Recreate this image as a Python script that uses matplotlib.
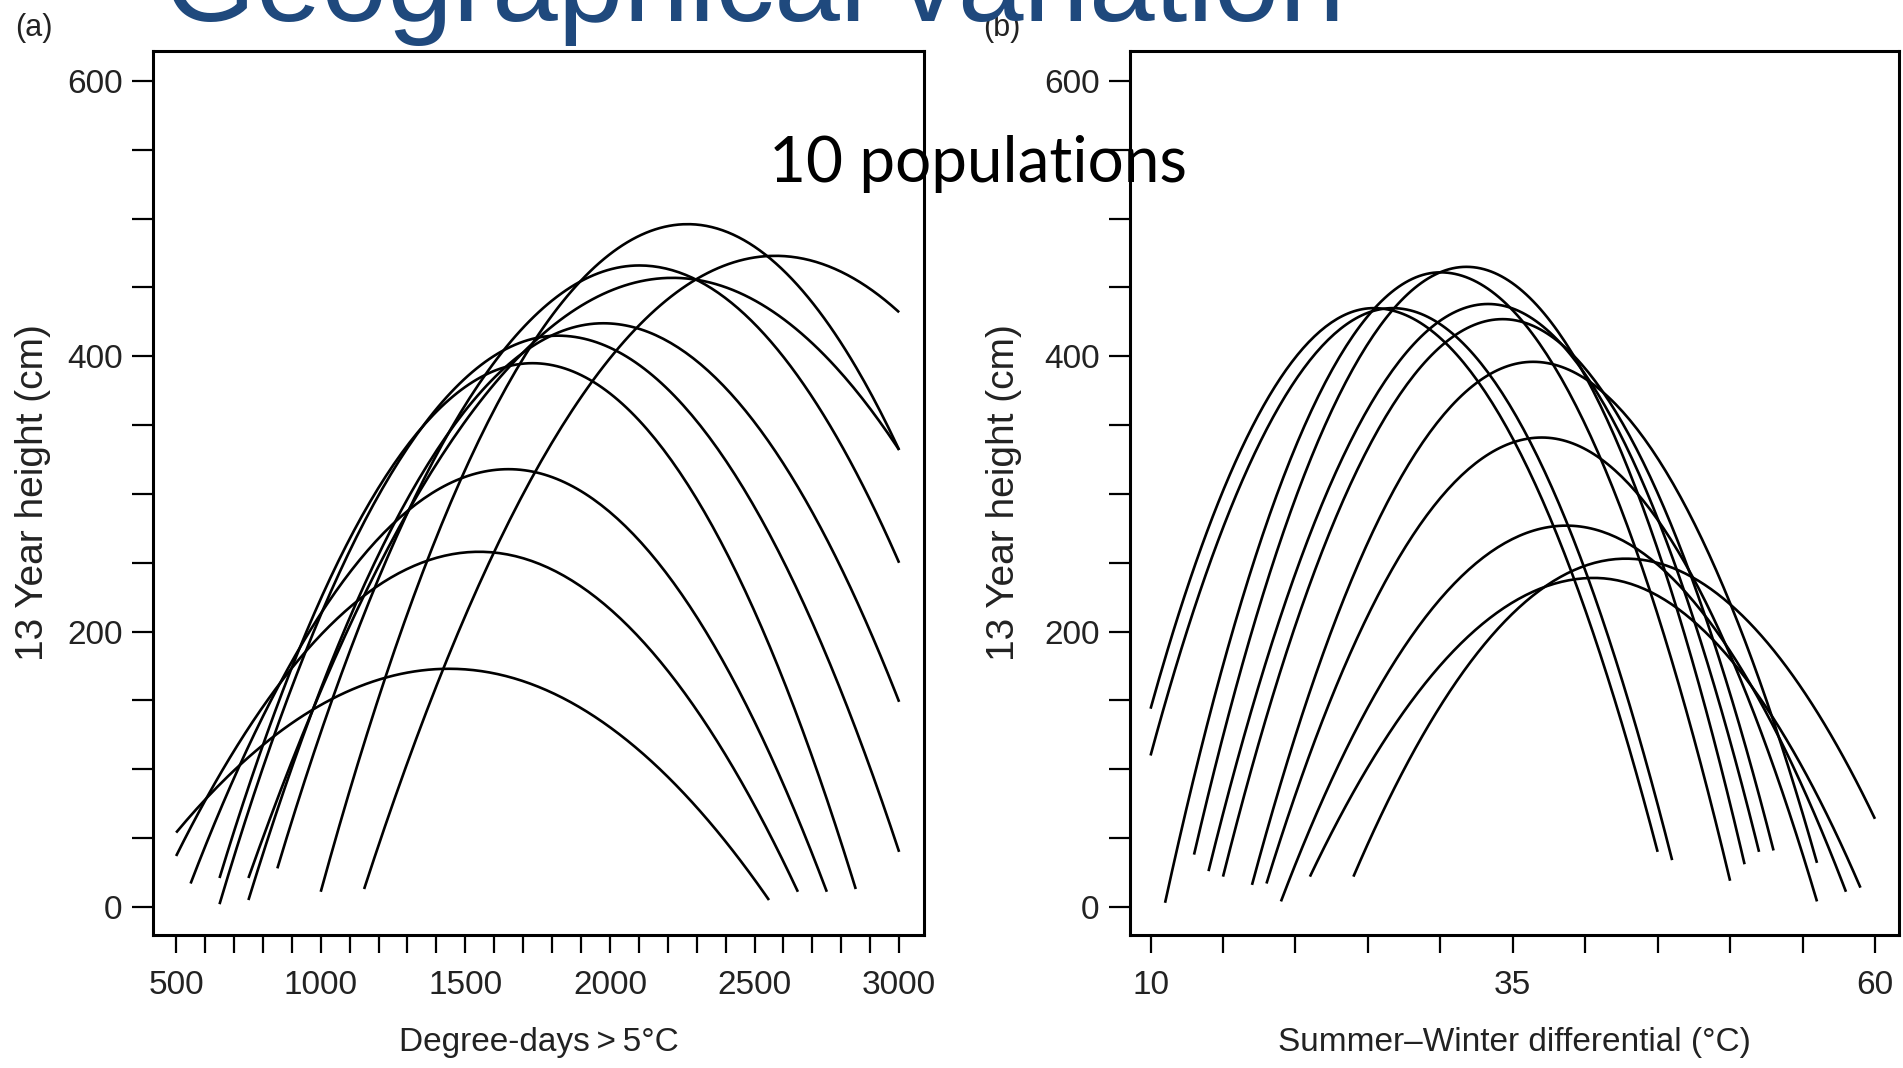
import numpy as np
import matplotlib
matplotlib.use('Agg')
import matplotlib.pyplot as plt
from matplotlib.ticker import MultipleLocator, FixedLocator

plt.rcParams['font.family'] = ['Liberation Sans', 'DejaVu Sans']

# Panel (a): 13 year height against degree-days > 5C
# one quadratic response curve per population: start, top and end of each curve
dd_start_x = [500, 500, 550, 650, 650, 750, 850, 750, 1000, 1150]
dd_start_y = [54, 37, 17, 21, 2, 5, 28, 21, 11, 13]
dd_peak_x = [1444, 1548, 1649, 1732, 1820, 1977, 2102, 2217, 2269, 2572]
dd_peak_y = [173, 258, 318, 395, 415, 424, 466, 457, 496, 473]
dd_end_x = [2550, 2650, 2750, 2850, 3000, 3000, 3000, 3000, 3000, 3000]
dd_end_y = [5, 11, 11, 13, 40, 149, 250, 332, 332, 432]

# Panel (b): 13 year height against summer-winter temperature differential
sw_start_x = [10, 10, 11, 13, 14, 15, 17, 18, 19, 21, 24]
sw_start_y = [144, 110, 3, 38, 26, 22, 16, 17, 4, 22, 22]
sw_peak_x = [25.4, 26.7, 30.0, 31.8, 33.3, 34.3, 36.4, 37.0, 38.7, 40.6, 42.8]
sw_peak_y = [435, 435, 461, 465, 438, 427, 396, 341, 277, 239, 253]
sw_end_x = [45, 46, 50, 51, 52, 53, 56, 56, 58, 59, 60]
sw_end_y = [40, 34, 19, 31, 40, 41, 32, 4, 11, 14, 64]


def draw_curve(ax, x0, y0, xp, yp, x1, y1):
    # two parabola halves that meet at the top of the curve
    xl = np.linspace(x0, xp, 80)
    yl = yp - (yp - y0) * ((xl - xp) / (x0 - xp)) ** 2
    xr = np.linspace(xp, x1, 80)
    yr = yp - (yp - y1) * ((xr - xp) / (x1 - xp)) ** 2
    ax.plot(np.r_[xl, xr[1:]], np.r_[yl, yr[1:]], color='black', lw=1.9,
            solid_capstyle='butt')


def style_axes(ax):
    for s in ax.spines.values():
        s.set_linewidth(2.2)
    ax.set_ylim(-20.4, 621.8)
    ax.yaxis.set_major_locator(MultipleLocator(200))
    ax.yaxis.set_minor_locator(MultipleLocator(50))
    ax.tick_params(which='both', direction='out', width=1.6, labelsize=24,
                   labelcolor='#222222')
    ax.tick_params(axis='y', which='both', length=15, pad=7)
    ax.tick_params(axis='x', which='both', length=13, pad=12)
    ax.set_ylabel('13 Year height (cm)', fontsize=28, color='#222222')


fig = plt.figure(figsize=(19.03, 10.68), dpi=100)
ax1 = fig.add_axes([153 / 1903, 1 - 935 / 1068, 771 / 1903, 884 / 1068])
ax2 = fig.add_axes([1130 / 1903, 1 - 935 / 1068, 769 / 1903, 884 / 1068])

for i in range(len(dd_peak_x)):
    draw_curve(ax1, dd_start_x[i], dd_start_y[i], dd_peak_x[i], dd_peak_y[i],
               dd_end_x[i], dd_end_y[i])
for i in range(len(sw_peak_x)):
    draw_curve(ax2, sw_start_x[i], sw_start_y[i], sw_peak_x[i], sw_peak_y[i],
               sw_end_x[i], sw_end_y[i])

style_axes(ax1)
ax1.set_xlim(420, 3086)
ax1.xaxis.set_major_locator(MultipleLocator(500))
ax1.xaxis.set_minor_locator(MultipleLocator(100))
ax1.set_xlabel('Degree-days\u2009>\u20095\u00b0C', fontsize=24, color='#222222')
ax1.yaxis.set_label_coords(-0.132, 0.5)
ax1.xaxis.set_label_coords(0.5, -0.104)

style_axes(ax2)
ax2.set_xlim(8.58, 61.66)
ax2.xaxis.set_major_locator(FixedLocator([10, 35, 60]))
ax2.xaxis.set_minor_locator(MultipleLocator(5))
ax2.set_xlabel('Summer\u2013Winter differential (\u00b0C)', fontsize=24, color='#222222')
ax2.yaxis.set_label_coords(-0.14, 0.5)
ax2.xaxis.set_label_coords(0.5, -0.104)

fig.text(0.008, 0.974, '(a)', fontsize=22, color='#222222', va='center')
fig.text(0.5166, 0.974, '(b)', fontsize=22, color='#222222', va='center')

# slide text on top of the figure
fig.text(0.0862, 0.980, 'Geographical variation', fontsize=85, color='#1f497d',
         ha='left', va='baseline', zorder=10)
fig.text(769 / 1903, 1 - 182 / 1068, '10 populations', fontsize=46,
         family=['Lato', 'DejaVu Sans'], color='black', ha='left', va='baseline',
         zorder=10)

plt.savefig('out.png', dpi=100)
